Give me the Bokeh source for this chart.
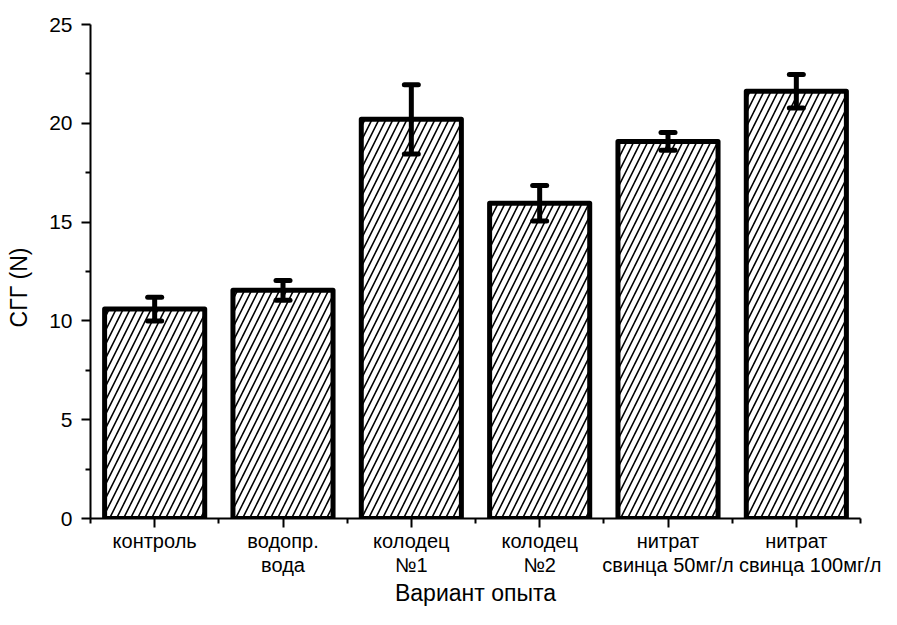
from bokeh.plotting import figure
from bokeh.models import (ColumnDataSource, Whisker, TeeHead, FixedTicker, Range1d)
from bokeh.embed import file_html
from bokeh.resources import INLINE

NBSP = "\u00a0"
categories = ["контроль", "водопр.\nвода", "колодец\n№1", "колодец\n№2",
              "нитрат\nсвинца 50мг/л", "нитрат\n" + NBSP * 5 + "свинца 100мг/л"]
values = [10.6, 11.55, 20.2, 15.95, 19.08, 21.62]
errors = [0.6, 0.5, 1.75, 0.9, 0.45, 0.85]
y_ticks = [0, 5, 10, 15, 20, 25]
y_minor_ticks = [2.5, 7.5, 12.5, 17.5, 22.5]

n = len(categories)
xs = [i + 0.5 for i in range(n)]
src = ColumnDataSource(dict(
    x=xs, top=values,
    upper=[v + e for v, e in zip(values, errors)],
    lower=[v - e for v, e in zip(values, errors)],
))

FONT = "Liberation Sans"

p = figure(width=881, height=609, output_backend="svg", toolbar_location=None,
           x_range=Range1d(0, n), y_range=Range1d(0, 25))
p.min_border_left = 90
p.min_border_right = 21
p.min_border_top = 24
p.min_border_bottom = 91
p.outline_line_color = None
p.xgrid.visible = False
p.ygrid.visible = False
p.background_fill_color = "white"
p.border_fill_color = "white"

p.vbar(x="x", top="top", bottom=0, width=0.78, source=src,
       fill_color="white", line_color="black", line_width=5,
       line_join="round",
       hatch_pattern="/", hatch_color="black", hatch_scale=14,
       hatch_weight=1.6)

w = Whisker(source=src, base="x", upper="upper", lower="lower",
            line_color="black", line_width=5, level="overlay",
            upper_head=TeeHead(size=14, line_width=5, line_color="black", line_cap="round"),
            lower_head=TeeHead(size=14, line_width=5, line_color="black", line_cap="round"))
p.add_layout(w)

# y axis
p.yaxis.ticker = FixedTicker(ticks=y_ticks, minor_ticks=y_minor_ticks)
p.yaxis.axis_label = "СГГ (N)" + NBSP * 5
p.yaxis.axis_label_text_font = FONT
p.yaxis.axis_label_text_font_size = "23px"
p.yaxis.axis_label_text_font_style = "normal"
p.yaxis.axis_label_standoff = 14
p.yaxis.major_label_text_font = FONT
p.yaxis.major_label_text_font_size = "21px"
p.yaxis.major_label_standoff = 9

# x axis
p.xaxis.ticker = FixedTicker(ticks=xs, minor_ticks=list(range(n + 1)))
p.xaxis.major_label_overrides = {x: c for x, c in zip(xs, categories)}
p.xaxis.axis_label = "Вариант опыта"
p.xaxis.axis_label_text_font = FONT
p.xaxis.axis_label_text_font_size = "23px"
p.xaxis.axis_label_text_font_style = "normal"
p.xaxis.axis_label_standoff = 1
p.xaxis.major_label_text_font = FONT
p.xaxis.major_label_text_font_size = "20px"
p.xaxis.major_label_text_line_height = 1.1
p.xaxis.major_label_standoff = 2

for ax in (p.xaxis, p.yaxis):
    ax.axis_line_width = 2
    ax.axis_line_color = "black"
    ax.major_tick_line_width = 2
    ax.minor_tick_line_width = 2
    ax.major_tick_line_color = "black"
    ax.minor_tick_line_color = "black"
    ax.major_tick_out = 9
    ax.major_tick_in = 0
    ax.minor_tick_out = 5
    ax.minor_tick_in = 0
    ax.major_label_text_color = "black"
    ax.axis_label_text_color = "black"

open("out.html", "w").write(file_html(p, INLINE))
